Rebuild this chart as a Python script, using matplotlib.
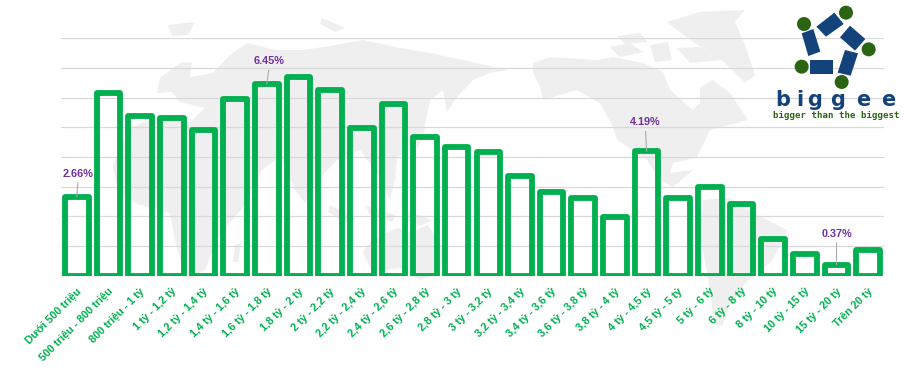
import matplotlib
matplotlib.use("Agg")
import matplotlib.pyplot as plt
from matplotlib.patches import Polygon, Circle
from matplotlib.transforms import ScaledTranslation

categories = ["Dưới 500 triệu", "500 triệu - 800 triệu", "800 triệu - 1 tỷ", "1 tỷ - 1,2 tỷ",
              "1,2 tỷ - 1,4 tỷ", "1,4 tỷ - 1,6 tỷ", "1,6 tỷ - 1,8 tỷ", "1,8 tỷ - 2 tỷ",
              "2 tỷ - 2,2 tỷ", "2,2 tỷ - 2,4 tỷ", "2,4 tỷ - 2,6 tỷ", "2,6 tỷ - 2,8 tỷ",
              "2,8 tỷ - 3 tỷ", "3 tỷ - 3,2 tỷ", "3,2 tỷ - 3,4 tỷ", "3,4 tỷ - 3,6 tỷ",
              "3,6 tỷ - 3,8 tỷ", "3,8 tỷ - 4 tỷ", "4 tỷ - 4,5 tỷ", "4,5 tỷ - 5 tỷ",
              "5 tỷ - 6 tỷ", "6 tỷ - 8 tỷ", "8 tỷ - 10 tỷ", "10 tỷ - 15 tỷ",
              "15 tỷ - 20 tỷ", "Trên 20 tỷ"]
values = [2.66, 6.15, 5.38, 5.31, 4.90, 5.95, 6.45, 6.70, 6.26, 4.98, 5.78, 4.67, 4.34,
          4.17, 3.36, 2.82, 2.62, 1.98, 4.19, 2.62, 2.99, 2.42, 1.24, 0.73, 0.37, 0.87]
labelled = [0, 6, 18, 24]
y_ticks = [0, 1, 2, 3, 4, 5, 6, 7, 8]

# background map, rough outlines in image pixels
eurasia_africa = [(157, 93), (160, 78), (180, 63), (192, 62), (190, 77), (213, 73), (230, 55), (247, 43),
                  (275, 50), (303, 50), (330, 46), (363, 40), (400, 48), (430, 53), (463, 60), (507, 70),
                  (490, 73), (473, 80), (457, 97), (447, 112), (443, 90), (430, 100), (425, 125), (423, 140),
                  (410, 150), (397, 157), (395, 180), (390, 200), (377, 173), (360, 150), (337, 160),
                  (318, 180), (305, 203), (295, 190), (280, 157), (262, 170), (245, 205), (228, 225),
                  (217, 240), (205, 270), (187, 280), (176, 245), (170, 213), (140, 205), (118, 195),
                  (113, 165), (130, 128), (160, 116), (190, 122), (205, 108), (180, 102), (172, 92)]
australia = [(363, 252), (372, 240), (398, 228), (412, 232), (428, 225), (445, 250), (440, 272), (420, 280),
             (400, 268), (372, 272)]
n_america = [(533, 63), (550, 57), (597, 60), (613, 57), (643, 63), (663, 72), (670, 90), (693, 110),
             (700, 103), (700, 87), (713, 80), (730, 93), (748, 120), (710, 130), (697, 157), (687, 160),
             (673, 163), (670, 173), (693, 170), (673, 187), (660, 180), (647, 160), (617, 140), (613, 127),
             (600, 103), (577, 90), (543, 100), (540, 87), (533, 73)]
s_america = [(703, 200), (730, 198), (753, 213), (787, 230), (773, 260), (745, 283), (728, 310), (722, 326),
             (714, 324), (710, 290), (700, 233)]
greenland = [(667, 22), (700, 12), (745, 10), (735, 22), (745, 45), (755, 75), (745, 83), (722, 60), (690, 40)]
extras = [[(235, 245), (241, 243), (238, 262), (233, 262)],
          [(168, 25), (195, 22), (188, 35), (172, 36)],
          [(322, 18), (345, 28), (335, 32), (320, 24)],
          [(330, 205), (355, 218), (350, 225), (328, 212)],
          [(365, 205), (395, 215), (392, 222), (370, 215)],
          [(405, 210), (432, 220), (420, 226), (402, 218)],
          [(412, 140), (420, 120), (424, 128), (418, 148)],
          [(610, 47), (630, 43), (643, 52), (620, 57)],
          [(617, 36), (640, 33), (647, 42), (625, 44)],
          [(677, 48), (700, 47), (723, 60), (690, 63)],
          [(650, 45), (668, 42), (672, 60), (655, 62)]]

logo_rects = [[(229, 80), (283, 38), (311, 72), (258, 110)],
              [(330, 77), (376, 117), (345, 152), (300, 112)],
              [(315, 150), (354, 160), (332, 227), (293, 218)],
              [(210, 181), (279, 181), (279, 221), (210, 221)],
              [(185, 100), (220, 87), (241, 155), (205, 168)]]
logo_dots = [(192, 72), (318, 38), (386, 148), (305, 246), (185, 200)]
logo_letters = "biggee"
logo_letter_x = [783, 800, 815, 838, 863, 888]


def logo_px(p):
    return (740 + p[0] / 3, p[1] / 3)


fig = plt.figure(figsize=(9.05, 3.82), dpi=100)

bg = fig.add_axes([0, 0, 1, 1], zorder=0)
bg.set_xlim(0, 905)
bg.set_ylim(382, 0)
bg.axis("off")
for shape in [eurasia_africa, australia, n_america, s_america, greenland] + extras:
    bg.add_patch(Polygon(shape, closed=True, color="#efefef", lw=0))

ax = fig.add_axes([61 / 905, (382 - 275.7) / 382, 823 / 905, 237.6 / 382], zorder=1)
ax.patch.set_alpha(0)
x = list(range(len(values)))
ax.bar(x, values, width=0.745, facecolor="none", edgecolor="#00b050", linewidth=4.2, joinstyle="round", zorder=3)
ax.set_xlim(-0.5, len(values) - 0.5)
ax.set_ylim(0, 8)
ax.set_yticks(y_ticks)
ax.set_yticklabels([])
ax.grid(axis="y", color="#d9d9d9", linewidth=0.9)
ax.set_axisbelow(True)
for s in ax.spines.values():
    s.set_visible(False)
ax.tick_params(length=0, pad=10)
ax.set_xticks(x)
ax.set_xticklabels(categories, rotation=45, ha="right", va="center", rotation_mode="anchor",
                   color="#00b050", fontsize=7.8, family="Liberation Sans", fontweight="bold")
shift = ScaledTranslation(3 / 100, 0, fig.dpi_scale_trans)
for lab in ax.get_xticklabels():
    lab.set_transform(lab.get_transform() + shift)

# leader offsets in px from the top of the bar
offsets = {0: (1, 23), 6: (2, 23), 18: (-1, 29), 24: (0, 31)}
for i in labelled:
    ox, oy = offsets[i]
    ax.annotate("%.2f%%" % values[i], xy=(i, values[i]), xytext=(ox * 0.72, oy * 0.72),
                textcoords="offset points", ha="center", va="center", color="#7030a0",
                fontsize=7.8, family="Liberation Sans", fontweight="bold", zorder=5)
    ax.annotate("", xy=(i, values[i]), xytext=(ox * 0.72, (oy - 9) * 0.72), textcoords="offset points",
                arrowprops=dict(arrowstyle="-", color="#aaaaaa", lw=0.8, shrinkA=0, shrinkB=0), zorder=4)

top = fig.add_axes([0, 0, 1, 1], zorder=2)
top.set_xlim(0, 905)
top.set_ylim(382, 0)
top.axis("off")
for r in logo_rects:
    top.add_patch(Polygon([logo_px(p) for p in r], closed=True, color="#14437c", lw=0))
for d in logo_dots:
    top.add_patch(Circle(logo_px(d), 7, color="#2b6413", lw=0))
for ch, lx in zip(logo_letters, logo_letter_x):
    top.text(lx, 100, ch, color="#14437c", fontsize=15, fontweight="bold", family="DejaVu Sans",
             ha="center", va="center")
top.text(836, 115, "bigger than the biggest", color="#2b6413", fontsize=6.6, fontweight="bold",
         family="DejaVu Sans Mono", ha="center", va="center")

fig.savefig("out.png", dpi=100)
